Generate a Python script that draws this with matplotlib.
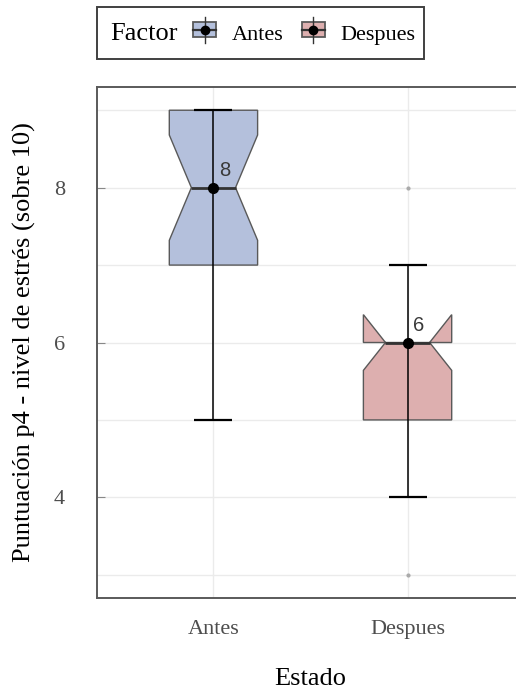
import matplotlib
matplotlib.use('Agg')
import matplotlib.pyplot as plt
from matplotlib.patches import Rectangle
from matplotlib.lines import Line2D
from matplotlib.legend_handler import HandlerBase

plt.rcParams['font.family'] = ['Liberation Serif', 'DejaVu Serif']

# resumen de la puntuacion p4 por estado
grupos = ['Antes', 'Despues']
mediana = [8, 6]
q1 = [7, 5]
q3 = [9, 6]
bigote_inf = [5, 4]
bigote_sup = [9, 7]
muesca_inf = [7.32, 5.64]
muesca_sup = [8.68, 6.36]
atipicos = [[], [3, 8]]
colores = ['#b4c0dc', '#ddafaf']

fig = plt.figure(figsize=(5.16, 6.92), dpi=100)
ax = fig.add_axes([97 / 516, 1 - 598 / 692, (524 - 97) / 516, (598 - 87) / 692])

stats = []
for i, g in enumerate(grupos):
    stats.append(dict(label=g, med=mediana[i], q1=q1[i], q3=q3[i],
                      whislo=q1[i], whishi=q3[i],
                      cilo=muesca_inf[i], cihi=muesca_sup[i], fliers=[]))

pos = [1, 2]
bp = ax.bxp(stats, positions=pos, widths=0.455, shownotches=True,
            patch_artist=True, showcaps=False, showfliers=False,
            boxprops=dict(edgecolor='#595959', linewidth=1.0),
            medianprops=dict(color='#333333', linewidth=2.0),
            whiskerprops=dict(visible=False), zorder=2)
for caja, c in zip(bp['boxes'], colores):
    caja.set_facecolor(c)

# barras de error de minimo a maximo, por encima de la caja
ax.errorbar(pos, mediana,
            yerr=[[m - lo for m, lo in zip(mediana, bigote_inf)],
                  [hi - m for m, hi in zip(mediana, bigote_sup)]],
            fmt='none', ecolor='black', elinewidth=1.1, capsize=14,
            capthick=1.6, zorder=3)

ax.plot(pos, mediana, 'o', color='black', markersize=7, zorder=4)
for x, m in zip(pos, mediana):
    ax.annotate(str(m), (x, m), xytext=(4, 5.5), textcoords='offset points',
                ha='left', va='bottom', fontsize=14.5, color='#3a3a3a',
                family=['Liberation Sans', 'DejaVu Sans'], zorder=5)

for x, valores in zip(pos, atipicos):
    ax.plot([x] * len(valores), valores, 'o', color='#aaaaaa',
            markersize=2, zorder=1)

ax.set_xlim(0.4, 2.6)
ax.set_ylim(2.7, 9.3)
ax.set_xticks(pos)
ax.set_xticklabels(grupos)
ax.set_yticks([4, 6, 8])
ax.set_yticks([3, 5, 7, 9], minor=True)
ax.grid(True, which='both', color='#ebebeb', linewidth=1.0, zorder=0)
ax.set_axisbelow(True)
ax.tick_params(axis='y', which='major', direction='in', length=6,
               color='#888888', pad=23, labelsize=16, labelcolor='#4d4d4d')
ax.tick_params(axis='y', which='minor', length=0)
ax.tick_params(axis='x', length=0, pad=16, labelsize=16,
               labelcolor='#4d4d4d')
for s in ax.spines.values():
    s.set_color('#5a5a5a')
    s.set_linewidth(1.4)

ax.set_ylabel('Puntuación p4 - nivel de estrés (sobre 10)', fontsize=19,
              color='black')
ax.yaxis.set_label_coords(-(97 - 24) / 427, 0.5)
ax.set_xlabel('Estado', fontsize=19, color='black')
ax.xaxis.set_label_coords(0.5, -(679 - 598) / 511)
ax.xaxis.label.set_va('center')
ax.yaxis.label.set_va('center')


# glifo de la leyenda: caja con mediana y punto
class CajaLeyenda(HandlerBase):
    def create_artists(self, legend, orig, xd, yd, w, h, fs, trans):
        cx = xd + w / 2
        rect = Rectangle((xd + 1, yd + 1), w - 2, h - 2,
                         facecolor=orig.get_facecolor(),
                         edgecolor='#595959', linewidth=1.3, transform=trans)
        vline = Line2D([cx, cx], [yd - 3, yd + h + 3], color='#333333',
                       linewidth=1.0, transform=trans)
        hline = Line2D([xd + 1, xd + w - 1], [yd + h / 2, yd + h / 2],
                       color='#333333', linewidth=1.6, transform=trans)
        dot = Line2D([cx], [yd + h / 2], marker='o', color='black',
                     markersize=6, transform=trans)
        return [rect, vline, hline, dot]


manijas = [Rectangle((0, 0), 1, 1, facecolor=c) for c in colores]
fig.patches.append(Rectangle((97 / 516, 1 - 59 / 692), (424 - 97) / 516,
                             (59 - 7) / 692, transform=fig.transFigure,
                             fill=False, edgecolor='#404040', linewidth=1.4))
fig.text(110 / 516, 1 - 34 / 692, 'Factor', fontsize=19, va='center',
         ha='left', color='black')
fig.legend(manijas, grupos, ncol=2, frameon=False, fontsize=16,
           handler_map={Rectangle: CajaLeyenda()},
           loc='center left', bbox_to_anchor=(192 / 516, 1 - 34 / 692),
           handlelength=1.15, handleheight=0.85, handletextpad=0.65,
           columnspacing=0.75, borderpad=0, borderaxespad=0)

fig.savefig('out.png', dpi=100)
